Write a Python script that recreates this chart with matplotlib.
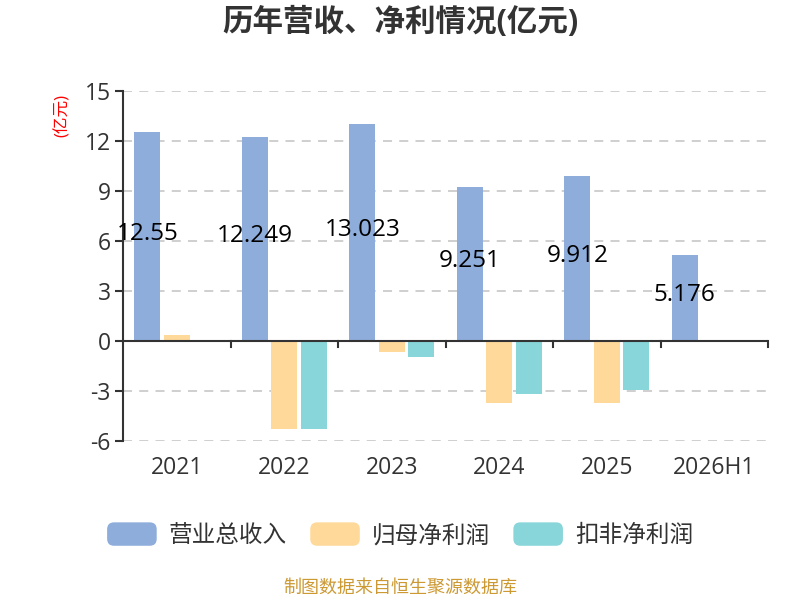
import numpy as np
import matplotlib
matplotlib.use('Agg')
import matplotlib.pyplot as plt
from matplotlib.patches import FancyBboxPatch, Patch
from matplotlib.legend_handler import HandlerPatch

plt.rcParams['font.family'] = ['Open Sans', 'Noto Sans CJK SC', 'DejaVu Sans']
plt.rcParams['axes.unicode_minus'] = False

years = ['2021', '2022', '2023', '2024', '2025', '2026H1']
revenue = [12.55, 12.249, 13.023, 9.251, 9.912, 5.176]
net_profit = [0.38, -5.3, -0.64, -3.72, -3.72, 0.05]
deducted_profit = [-0.05, -5.28, -0.98, -3.2, -2.94, 0.02]
series_names = ['营业总收入', '归母净利润', '扣非净利润']
colors = ['#8EADDB', '#FFD99A', '#88D6DA']

fig = plt.figure(figsize=(8, 6), dpi=100)
ax = fig.add_axes([0.154, 0.265, 0.806, 0.583])

x = np.arange(len(years))
w = 0.242
off = 0.274
ax.bar(x - off, revenue, w, color=colors[0], zorder=3)
ax.bar(x, net_profit, w, color=colors[1], zorder=3)
ax.bar(x + off, deducted_profit, w, color=colors[2], zorder=3)

for xi, v in zip(x, revenue):
    ax.annotate(f'{v:g}', (xi - off, v / 2), xytext=(0, 2), textcoords='offset points',
                ha='center', va='center', fontsize=17.5, color='black', zorder=4)

ax.set_xlim(-0.5, len(years) - 0.5)
ax.set_ylim(-6, 15)
ax.set_yticks(np.arange(-6, 16, 3))
ax.set_xticks(x)
ax.set_xticklabels(years)
ax.tick_params(axis='x', which='major', length=0, pad=11, labelsize=16.5, colors='#333333')
ax.tick_params(axis='y', length=6, width=1.5, color='#333333', labelsize=16.5, labelcolor='#333333', pad=3)

for yv in np.arange(-6, 16, 3):
    if yv != 0:
        ax.axhline(yv, color='#cccccc', lw=1.3, ls=(0, (5, 4)), zorder=1)
ax.axhline(0, color='#333333', lw=1.5, zorder=4)

for s in ['top', 'right', 'bottom']:
    ax.spines[s].set_visible(False)
ax.spines['left'].set_color('#333333')
ax.spines['left'].set_linewidth(1.5)

# category boundary ticks hang from the zero line
for xm in np.arange(0.5, len(years) + 0.5, 1):
    ax.plot([xm, xm], [0, -0.36], color='#333333', lw=1.5, zorder=4, clip_on=False)

fig.text(0.5, 0.962, '历年营收、净利情况(亿元)', ha='center', va='center',
         fontsize=22, fontweight='bold', color='#333333')
fig.text(0.078, 0.808, '(亿元)', ha='center', va='center', rotation=90,
         fontsize=12, color='red')
fig.text(0.5, 0.02, '制图数据来自恒生聚源数据库', ha='center', va='center',
         fontsize=13, color='#CC9933')


def rounded(legend, orig_handle, xdescent, ydescent, width, height, fontsize):
    return FancyBboxPatch((-xdescent, -ydescent), width, height,
                          boxstyle='round,pad=0,rounding_size=5')


handles = [Patch(facecolor=c, edgecolor='none') for c in colors]
fig.legend(handles, series_names, loc='center', bbox_to_anchor=(0.5, 0.108), ncol=3,
           frameon=False, fontsize=17, handlelength=2.1, handleheight=1.15,
           columnspacing=1.0, handletextpad=0.5,
           labelcolor='#333333',
           handler_map={Patch: HandlerPatch(patch_func=rounded)})

fig.savefig('out.png', dpi=100)
